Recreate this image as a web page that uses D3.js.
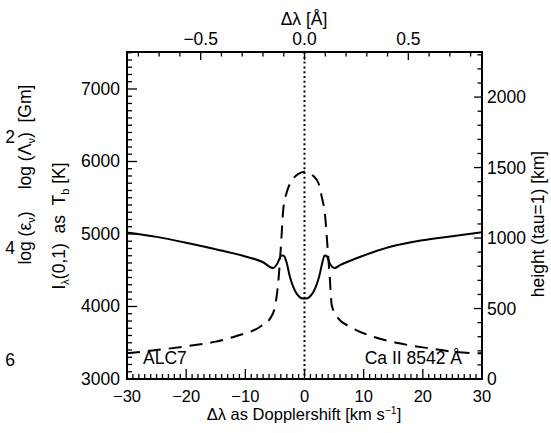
<!DOCTYPE html>
<html><head><meta charset="utf-8">
<script src="https://cdn.jsdelivr.net/npm/d3@7"></script>
<style>
body{margin:0;background:#fff;}
text{font-family:"Liberation Sans",Arial,Helvetica,sans-serif;fill:#000;}
</style></head>
<body><svg id="c" width="551" height="433"></svg>
<script>
// Data
const tbVel = [-30,-25,-20,-15,-10,-7,-5.3,-4.6,-3.9,-3.5,-3.0,-2.5,-2.0,-1.5,-1.0,-0.5,0,0.5,1.0,1.5,2.0,2.5,3.0,3.4,3.7,4.3,5.1,6,8.8,14.5,20,25,30];
const tbTemp = [5020,4960,4880,4790,4690,4610,4530,4590,4705,4700,4600,4420,4290,4200,4145,4115,4110,4115,4145,4200,4290,4420,4600,4705,4700,4590,4530,4570,4665,4825,4915,4970,5025];
const htVel = [-30,-25,-20,-15,-11.5,-7.5,-5.8,-5.0,-4.4,-3.9,-3.6,-3.0,-2.4,-1.5,-0.5,0,0.5,1.5,2.4,2.9,3.5,3.8,4.3,4.6,5.7,7.7,11.6,16,21,25,30];
const htKm = [182,205,232,265,305,371,430,513,702,1000,1200,1325,1390,1440,1466,1470,1466,1440,1385,1295,1150,990,702,525,430,371,300,253,218,194,182];
const bottomTicks = [-30,-20,-10,0,10,20,30];
const topTicks = [-0.5,0.0,0.5];
const leftTicks = [3000,4000,5000,6000,7000];
const rightTicks = [0,500,1000,1500,2000];
const ghostLabels = ["2","4","6"];

const svg = d3.select("#c");
const X0=127, X1=482, Y0=52, Y1=379;
const x = d3.scaleLinear().domain([-30,30]).range([X0,X1]);
const xTop = d3.scaleLinear().domain([-30*8542/299792.458, 30*8542/299792.458]).range([X0,X1]);
const yT = d3.scaleLinear().domain([3000,7510]).range([Y1,Y0]);
const yH = d3.scaleLinear().domain([0,2320]).range([Y1,Y0]);
const FS = "17.5px";
const fmtMinus = s => s.replace("-", "\u2212");

// ticks
const g = svg.append("g").attr("stroke","#000").attr("stroke-width",1.3);
for (let v=-30; v<=30; v++) {
  const major = v%10===0;
  g.append("line").attr("x1",x(v)).attr("x2",x(v)).attr("y1",Y1).attr("y2",Y1-(major?10:5));
}
for (let k=-8; k<=8; k++) {
  const v=k/10, major = k%5===0;
  g.append("line").attr("x1",xTop(v)).attr("x2",xTop(v)).attr("y1",Y0).attr("y2",Y0+(major?8:4.5));
}
for (let t=3000; t<=7500; t+=100) {
  const major = t%1000===0;
  g.append("line").attr("x1",X0).attr("x2",X0+(major?10:5)).attr("y1",yT(t)).attr("y2",yT(t));
}
for (let h=0; h<=2300; h+=100) {
  const major = h%500===0;
  g.append("line").attr("x1",X1).attr("x2",X1-(major?8:4.5)).attr("y1",yH(h)).attr("y2",yH(h));
}
svg.append("rect").attr("x",X0).attr("y",Y0).attr("width",X1-X0).attr("height",Y1-Y0)
  .attr("fill","none").attr("stroke","#000").attr("stroke-width",2);

// tick labels
svg.selectAll(".bt").data(bottomTicks).enter().append("text")
  .attr("x",d=>x(d)).attr("y",402).attr("text-anchor","middle").style("font-size","16.5px")
  .text(d=>fmtMinus(String(d)));
svg.selectAll(".tt").data(topTicks).enter().append("text")
  .attr("x",d=>xTop(d)).attr("y",45).attr("text-anchor","middle").style("font-size",FS)
  .text(d=>fmtMinus(d.toFixed(1)));
svg.selectAll(".lt").data(leftTicks).enter().append("text")
  .attr("x",120).attr("y",d=>yT(d)+6).attr("text-anchor","end").style("font-size",FS)
  .text(d=>d);
svg.selectAll(".rt").data(rightTicks).enter().append("text")
  .attr("x",487).attr("y",d=>yH(d)+6).attr("text-anchor","start").style("font-size",FS)
  .text(d=>d);

// axis titles
svg.append("text").attr("x",304).attr("y",25).attr("text-anchor","middle").style("font-size",FS).text("\u0394\u03bb [\u00c5]");
const bt = svg.append("text").attr("x",304).attr("y",420).attr("text-anchor","middle").style("font-size","16.5px");
bt.append("tspan").text("\u0394\u03bb as Dopplershift [km s");
bt.append("tspan").attr("dy",-6).style("font-size","10.5px").text("\u22121");
bt.append("tspan").attr("dy",6).text("]");

const lt = svg.append("text").attr("transform","translate(65,226) rotate(-90)").attr("text-anchor","middle").style("font-size",FS).attr("xml:space","preserve");
lt.append("tspan").text("I");
lt.append("tspan").attr("dy",4).style("font-size","11px").text("\u03bb");
lt.append("tspan").attr("dy",-4).text("(0,1)  as  T");
lt.append("tspan").attr("dy",4).style("font-size","11px").text("b");
lt.append("tspan").attr("dy",-4).text(" [K]");

svg.append("text").attr("transform","translate(544,224) rotate(-90)").attr("text-anchor","middle").style("font-size",FS).text("height (tau=1) [km]");

// ghost labels on far left
const gy = [137, 248, 360];
svg.selectAll(".gl").data(ghostLabels).enter().append("text")
  .attr("x",10).attr("y",(d,i)=>gy[i]+6).attr("text-anchor","middle").style("font-size",FS).text(d=>d);
const l1 = svg.append("text").attr("transform","translate(31,137) rotate(-90)").attr("text-anchor","middle").style("font-size",FS).attr("xml:space","preserve");
l1.append("tspan").text("log (\u039b");
l1.append("tspan").attr("dy",4).style("font-size","11px").text("\u03bd");
l1.append("tspan").attr("dy",-4).text(")  [Gm]");
const l2 = svg.append("text").attr("transform","translate(31,238) rotate(-90)").attr("text-anchor","middle").style("font-size",FS).attr("xml:space","preserve");
l2.append("tspan").text("log (\u03b5");
l2.append("tspan").attr("dy",4).style("font-size","11px").text("\u03bd");
l2.append("tspan").attr("dy",-4).text(")");

// annotations
svg.append("text").attr("x",143).attr("y",364).style("font-size",FS).text("ALC7");
svg.append("text").attr("x",462).attr("y",364).attr("text-anchor","end").style("font-size",FS).text("Ca II 8542 \u00c5");

// dotted center line
svg.append("line").attr("x1",x(0)).attr("x2",x(0)).attr("y1",Y0).attr("y2",Y1)
  .attr("stroke","#000").attr("stroke-width",2).attr("stroke-dasharray","2,2.8");

// curves
const tb = tbVel.map((v,i)=>[v,tbTemp[i]]);
const ht = htVel.map((v,i)=>[v,htKm[i]]);
svg.append("path").datum(tb)
  .attr("d", d3.line().x(d=>x(d[0])).y(d=>yT(d[1])).curve(d3.curveMonotoneX))
  .attr("fill","none").attr("stroke","#000").attr("stroke-width",2);
svg.append("path").datum(ht)
  .attr("d", d3.line().x(d=>x(d[0])).y(d=>yH(d[1])).curve(d3.curveMonotoneX))
  .attr("fill","none").attr("stroke","#000").attr("stroke-width",2).attr("stroke-dasharray","13,8");
</script></body></html>
